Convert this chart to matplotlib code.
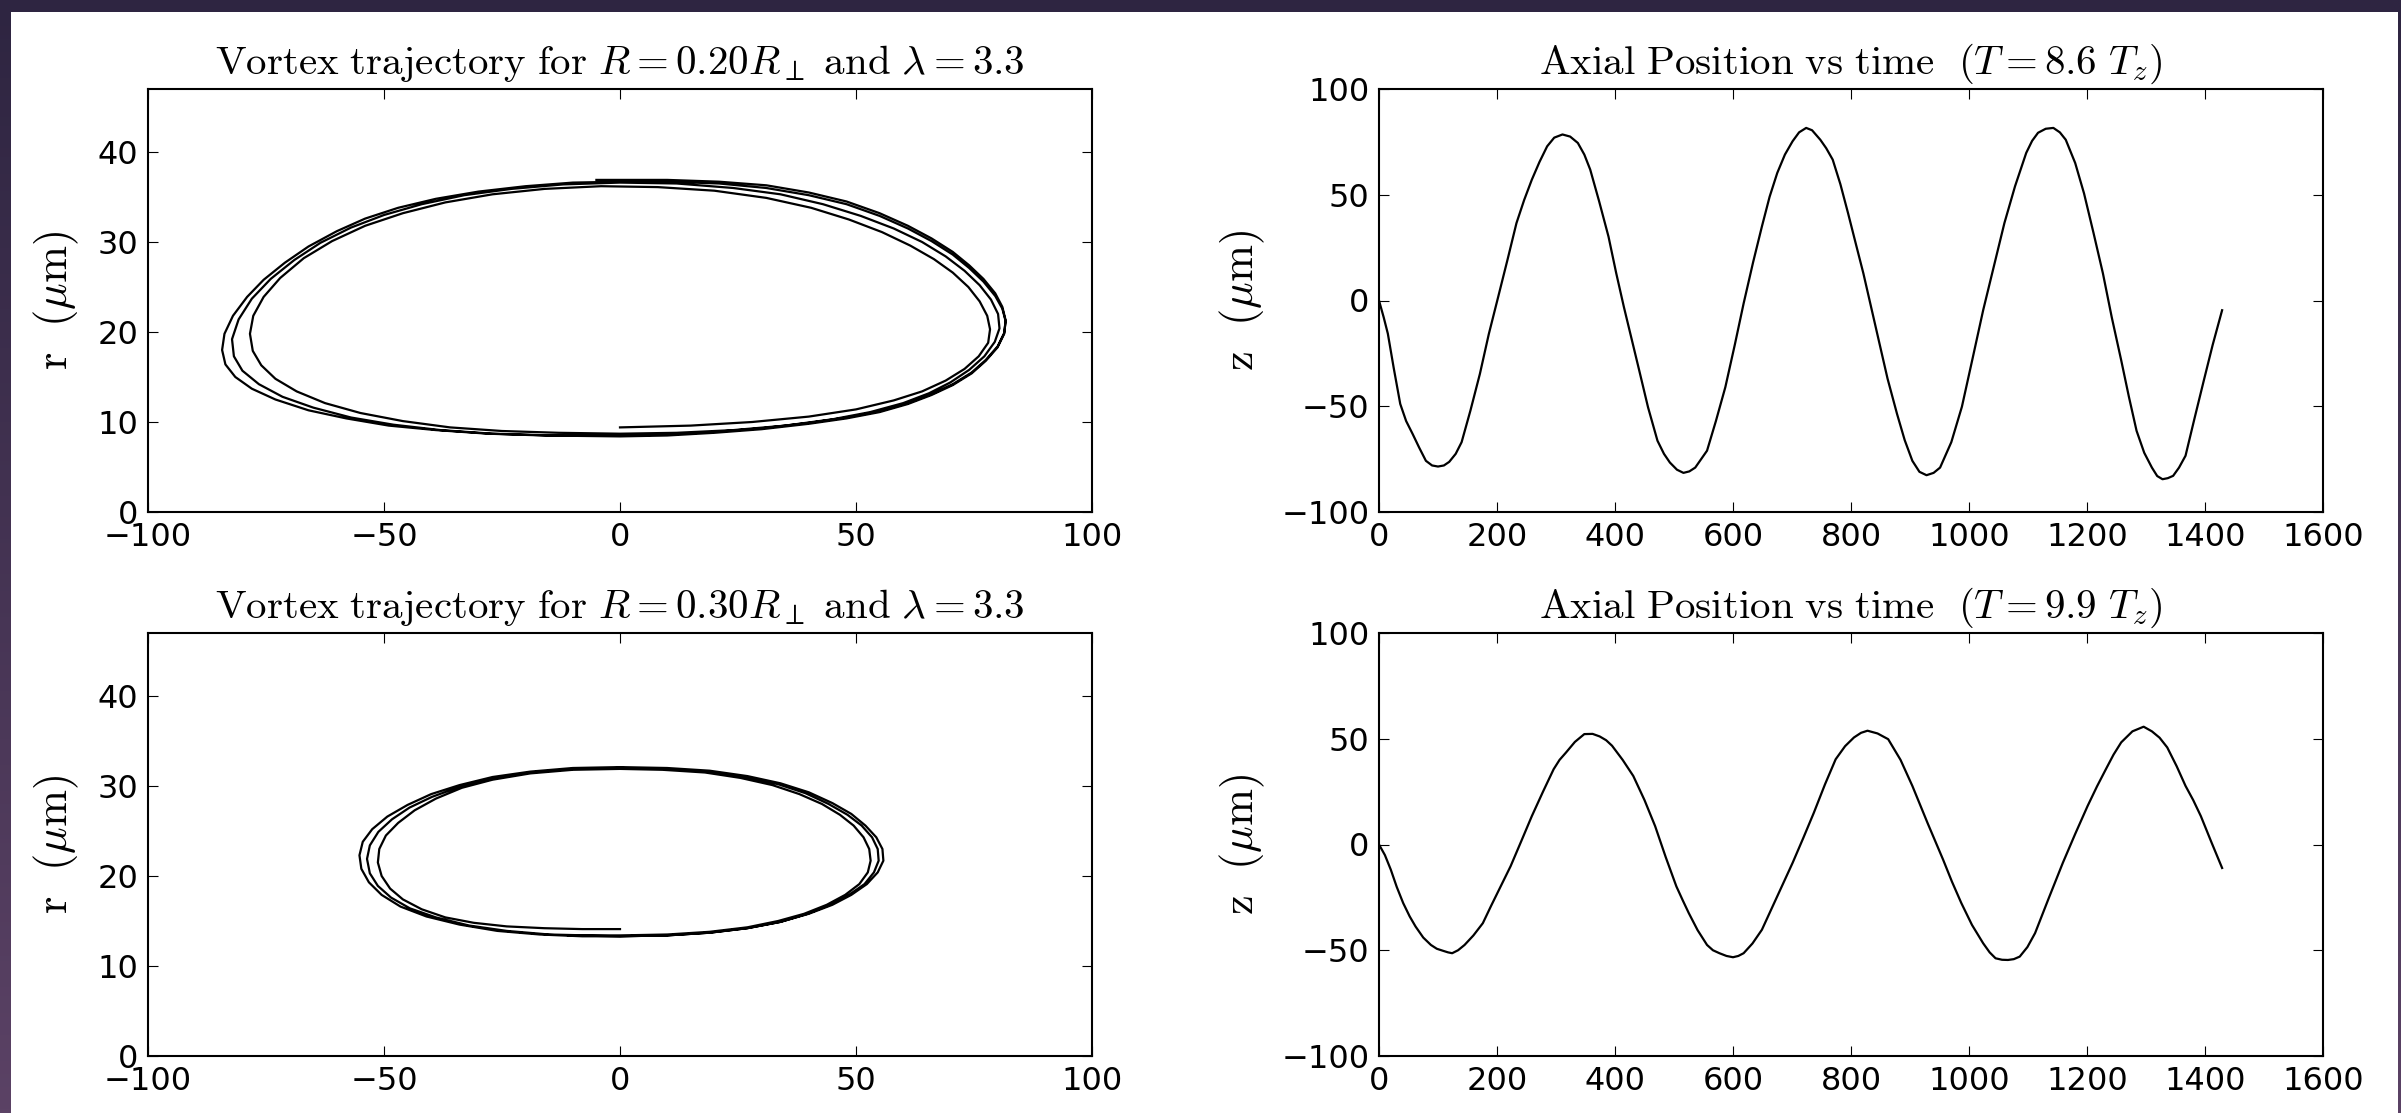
import numpy as np
import matplotlib
matplotlib.use('Agg')
import matplotlib.pyplot as plt
from matplotlib.colors import LinearSegmentedColormap
from matplotlib.patches import Rectangle

plt.rcParams['mathtext.fontset'] = 'cm'
plt.rcParams['font.family'] = 'DejaVu Sans'

# vortex trajectory, R = 0.20 R_perp (about 3.5 turns)
x_r20 = [0, 15, 28, 40, 50, 58, 64, 69, 73, 76, 78, 78.4, 77.8, 76.2, 73.8, 70.5, 66.5, 61.5,
         55.5, 48.5, 40.5, 31, 20, 8, -4, -16, -27, -37, -46, -54, -61, -67, -72, -75.5, -77.7,
         -78.4, -77.8, -76, -73, -68.5, -62.5, -55, -46, -36, -25, -13, 0,
         12, 24, 35, 45, 53, 60, 65.5, 70, 74, 77.2, 79.4, 80.4, 80.1, 78.6, 76.2, 73, 69, 64,
         58, 51, 43, 34, 24, 12, 0, -12, -23, -33, -42, -50, -57, -63.5, -69, -74, -78, -80.8,
         -82.2, -81.8, -80, -76.5, -71.5, -65, -57, -48, -38, -27, -14, 0,
         10, 20, 30, 40, 48, 55, 61, 66, 70.5, 74.5, 77.5, 80, 81.4, 81.7, 81, 79.5, 77, 74,
         70.5, 66, 61, 55, 48, 40, 31, 21, 10, 0, -10, -20, -30, -39, -47, -54, -60, -66, -71,
         -75.5, -79, -82, -83.8, -84.3, -83.6, -81.5, -78, -73, -66, -58, -49, -39, -28, -16, 0,
         10, 20, 30, 40, 48, 55, 61, 66, 70.5, 74.5, 77.5, 80, 81.4, 81.7, 81, 79.5, 77, 74,
         70.5, 66, 61, 55, 48, 40, 31, 21, 10, 0, -5]
r_r20 = [9.4, 9.6, 10.0, 10.6, 11.4, 12.4, 13.4, 14.6, 15.9, 17.3, 18.8, 20.3, 21.8, 23.4, 25.0,
         26.6, 28.1, 29.6, 31.1, 32.5, 33.8, 34.9, 35.7, 36.1, 36.2, 35.9, 35.3, 34.4, 33.2,
         31.8, 30.1, 28.2, 26.0, 23.9, 21.8, 19.8, 17.9, 16.3, 14.8, 13.4, 12.1, 11.0, 10.1,
         9.4, 9.0, 8.8, 8.7,
         8.8, 9.1, 9.6, 10.3, 11.1, 12.1, 13.2, 14.4, 15.8, 17.3, 18.9, 20.4, 22.0, 23.6, 25.2,
         26.8, 28.4, 30.0, 31.5, 32.9, 34.2, 35.3, 36.0, 36.5, 36.6, 36.4, 35.9, 35.2, 34.2,
         33.0, 31.6, 29.9, 28.0, 25.9, 23.7, 21.4, 19.2, 17.3, 15.7, 14.2, 12.8, 11.6, 10.5,
         9.7, 9.1, 8.7, 8.5, 8.5,
         8.6, 8.9, 9.3, 9.9, 10.5, 11.2, 12.1, 13.1, 14.2, 15.5, 16.9, 18.4, 19.9, 21.2, 22.6,
         24.0, 25.6, 27.1, 28.6, 30.1, 31.5, 32.9, 34.2, 35.2, 36.0, 36.5, 36.7, 36.7, 36.6,
         36.2, 35.6, 34.8, 33.8, 32.6, 31.2, 29.5, 27.7, 25.8, 23.9, 21.8, 19.8, 18.0, 16.4,
         15.0, 13.7, 12.5, 11.3, 10.4, 9.6, 9.1, 8.7, 8.5, 8.4,
         8.5, 8.8, 9.2, 9.8, 10.4, 11.1, 12.0, 13.0, 14.1, 15.4, 16.8, 18.3, 19.8, 21.3, 22.8,
         24.3, 25.9, 27.4, 28.9, 30.4, 31.8, 33.2, 34.5, 35.5, 36.3, 36.7, 36.9, 36.9, 36.9]

# vortex trajectory, R = 0.30 R_perp (three turns, spiralling in)
x_r30 = [-11, 0, 10, 19, 27, 34, 40, 45, 49, 52.3, 54.6, 55.8, 55.6, 54.3, 52, 49, 45, 40, 34, 27,
         19, 10, 0, -10, -19, -27, -34, -40, -45, -49.3, -52.5, -54.5, -55.2, -54.8, -53.2,
         -50.5, -46.5, -41, -34, -26, -17, -8, 0,
         10, 19, 27, 34, 39.7, 44.5, 48.5, 51.8, 53.8, 54.8, 54.6, 53.4, 51.2, 48.2, 44.2, 39.3,
         33.5, 26.5, 18.5, 9.5, 0, -10, -19, -27, -34, -39.8, -44.6, -48.3, -51.2, -53, -53.6,
         -53, -51.3, -48.5, -44.5, -39, -32, -24, -15, -7, 0,
         10, 19, 27, 33.5, 39, 43.8, 47.7, 50.7, 52.5, 53.1, 52.8, 51.6, 49.5, 46.6, 42.8, 38,
         32.3, 25.5, 18, 9, 0, -10, -19, -27, -33.5, -39, -43.5, -47, -49.6, -51, -51.3, -50.5,
         -48.7, -46, -42, -37, -31, -24, -16, -8, 0]
r_r30 = [13.4, 13.3, 13.4, 13.7, 14.2, 14.9, 15.8, 16.8, 17.9, 19.1, 20.4, 21.7, 23.0, 24.3,
         25.6, 26.9, 28.1, 29.3, 30.3, 31.1, 31.7, 32.0, 32.1, 32.0, 31.6, 31.0, 30.1, 29.1,
         27.9, 26.6, 25.2, 23.8, 22.3, 20.8, 19.3, 17.9, 16.6, 15.5, 14.6, 13.9, 13.5, 13.3,
         13.3,
         13.4, 13.7, 14.2, 14.9, 15.8, 16.8, 17.9, 19.1, 20.4, 21.7, 23.0, 24.3, 25.6, 26.8,
         28.0, 29.2, 30.2, 31.0, 31.6, 31.9, 32.0, 31.9, 31.5, 30.8, 29.9, 28.8, 27.6, 26.3,
         24.9, 23.4, 21.9, 20.3, 18.9, 17.6, 16.4, 15.4, 14.5, 13.9, 13.5, 13.4, 13.4,
         13.5, 13.8, 14.3, 15.0, 15.8, 16.8, 17.9, 19.1, 20.4, 21.7, 23.0, 24.3, 25.6, 26.8,
         28.0, 29.1, 30.1, 30.9, 31.5, 31.8, 31.9, 31.8, 31.4, 30.7, 29.8, 28.6, 27.3, 25.9,
         24.5, 23.0, 21.5, 20.0, 18.6, 17.4, 16.3, 15.4, 14.8, 14.4, 14.2, 14.1, 14.1]

# axial position vs time, T = 8.6 T_z
t_86 = [0, 8, 15, 25, 36, 46, 57, 68, 79.5, 90, 100, 110, 119, 130, 140, 155, 171, 186, 202,
        218, 233, 246, 259, 272, 285, 297, 311, 324, 337, 348, 358, 373, 389, 402, 415, 428,
        441, 456, 472, 483, 493, 505, 516, 526, 536, 546, 556, 571, 587, 603, 618, 634, 649,
        662, 675, 688, 701, 712, 724, 734, 748, 758, 769, 782, 795, 808, 821, 834, 847, 862,
        878, 891, 904, 916, 928, 940, 951, 970, 988, 1006, 1024, 1042, 1060, 1078, 1097, 1107,
        1117, 1130, 1143, 1154, 1164, 1180, 1195, 1211, 1227, 1242, 1258, 1271, 1284, 1297,
        1310, 1319, 1328, 1337, 1346, 1356, 1367, 1382, 1398, 1413, 1429]
z_86 = [0, -8, -15.7, -32, -48.9, -57, -63.1, -69.5, -75.8, -78, -78.5, -78, -76.3, -72.5, -67,
        -52, -34.7, -16, 1.7, 19.5, 36.6, 47.5, 57.1, 65.5, 72.9, 77, 78.5, 77.5, 74.5, 69,
        61.9, 47, 30.2, 13, -3.0, -18, -33, -50.5, -66.3, -72.5, -76.6, -80, -81.5, -80.8, -79,
        -75, -71, -57, -41, -21, -1.4, 18, 35, 49, 60.3, 69, 75.3, 79.5, 81.6, 80.5, 76, 72,
        66.6, 55, 41.3, 27, 12.8, -3, -18.8, -37, -53.6, -66, -75.8, -81, -82.6, -81.5, -79,
        -67, -50.2, -27.5, -4.6, 16, 36.6, 54, 69.8, 75.5, 79.3, 81.2, 81.6, 79.5, 76, 65,
        50.6, 32, 12.8, -8, -28.3, -45.5, -61.6, -72, -79, -83, -84.5, -84, -82.9, -79, -73.4,
        -56, -37.8, -21, -4.6]

# axial position vs time, T = 9.9 T_z
t_99 = [0, 10, 20, 30, 41, 52, 62, 75, 88, 98, 109, 117, 124, 134, 145, 160, 176, 190, 205, 223,
        241, 259, 278, 296, 306, 317, 332, 348, 362, 374, 385, 395, 413, 431, 450, 468, 486,
        504, 515, 525, 540, 556, 566, 577, 589, 600, 609, 618, 633, 649, 675, 701, 719, 737,
        756, 774, 790, 805, 817, 828, 845, 863, 884, 904, 930, 956, 971, 987, 1005, 1024, 1035,
        1045, 1056, 1066, 1076, 1086, 1099, 1112, 1135, 1159, 1180, 1201, 1217, 1232, 1245,
        1258, 1277, 1296, 1310, 1323, 1336, 1352, 1367, 1380, 1393, 1411, 1429]
z_99 = [0, -5, -11.9, -20, -27.7, -34, -38.8, -44, -47.5, -49.3, -50.3, -51, -51.4, -50, -47.5,
        -43, -37.2, -29, -20.5, -10.3, 1.5, 13.4, 25, 35.6, 40, 43.5, 48.5, 52.2, 52.3, 51.1,
        49.3, 46.7, 40, 32.4, 21, 8.7, -6, -19.8, -26.5, -32.4, -40.5, -47.5, -50, -51.4,
        -52.7, -53.3, -52.7, -51.4, -46.8, -40.3, -24.5, -8.7, 3, 15.0, 28.5, 40.3, 46.5, 50.6,
        52.8, 53.8, 52.5, 49.8, 40, 27.7, 10, -7.1, -17.5, -27.7, -38, -46.7, -51, -53.8,
        -54.5, -54.6, -54.2, -53, -48.5, -41.9, -25.5, -8.7, 5, 18.2, 27.5, 35.6, 42.5, 48.3,
        53.5, 55.7, 53.5, 50.5, 45.9, 37, 27.7, 21, 13.4, 1, -11.1]

W, H = 2401, 1113
fig = plt.figure(figsize=(W / 100, H / 100), dpi=100)

# dark frame around the white page
bg = fig.add_axes([0, 0, 1, 1], zorder=-10)
cmap = LinearSegmentedColormap.from_list('frame', ['#5b4265', '#2e2541'])
bg.imshow(np.linspace(0, 1, 256).reshape(-1, 1), cmap=cmap, aspect='auto',
          extent=[0, 1, 0, 1], origin='lower')
bg.add_patch(Rectangle((11 / W, 0), (2398 - 11) / W, (H - 12) / H, facecolor='white',
                       edgecolor='none'))
bg.set_xlim(0, 1)
bg.set_ylim(0, 1)
bg.axis('off')

left_x, right_x = 148 / W, 1379 / W
ax_w = (1092 - 148) / W
top_b, bot_b = (H - 512) / H, (H - 1056) / H
ax_h = (512 - 89) / H

ax1 = fig.add_axes([left_x, top_b, ax_w, ax_h])
ax2 = fig.add_axes([right_x, top_b, ax_w, ax_h])
ax3 = fig.add_axes([left_x, bot_b, ax_w, ax_h])
ax4 = fig.add_axes([right_x, bot_b, ax_w, ax_h])

ax1.plot(x_r20, r_r20, color='k', lw=1.6)
ax3.plot(x_r30, r_r30, color='k', lw=1.6)
ax2.plot(t_86, z_86, color='k', lw=1.6)
ax4.plot(t_99, z_99, color='k', lw=1.6)

ax1.set_title(r'$\mathrm{Vortex\ trajectory\ for\ }R=0.20R_\perp\mathrm{\ and\ }\lambda=3.3$',
              fontsize=29.5, pad=11)
ax3.set_title(r'$\mathrm{Vortex\ trajectory\ for\ }R=0.30R_\perp\mathrm{\ and\ }\lambda=3.3$',
              fontsize=29.5, pad=11)
ax2.set_title(r'$\mathrm{Axial\ Position\ vs\ time}\ \ (T=8.6\ T_z)$', fontsize=29.5, pad=11)
ax4.set_title(r'$\mathrm{Axial\ Position\ vs\ time}\ \ (T=9.9\ T_z)$', fontsize=29.5, pad=11)

for ax in (ax1, ax3):
    ax.set_xlim(-100, 100)
    ax.set_ylim(0, 47)
    ax.set_xticks([-100, -50, 0, 50, 100])
    ax.set_yticks([0, 10, 20, 30, 40])
    ax.set_ylabel(r'$\mathrm{r}\ \ (\mu\mathrm{m})$', fontsize=32, labelpad=12)
for ax in (ax2, ax4):
    ax.set_xlim(0, 1600)
    ax.set_ylim(-100, 100)
    ax.set_xticks(np.arange(0, 1601, 200))
    ax.set_yticks([-100, -50, 0, 50, 100])
    ax.set_ylabel(r'$\mathrm{z}\ \ (\mu\mathrm{m})$', fontsize=32, labelpad=10)

for ax in (ax1, ax2, ax3, ax4):
    ax.tick_params(direction='in', top=True, right=True, length=7, width=0.8,
                   labelsize=23, pad=7)
    for s in ax.spines.values():
        s.set_linewidth(1.5)

fig.savefig('out.png', dpi=100)
